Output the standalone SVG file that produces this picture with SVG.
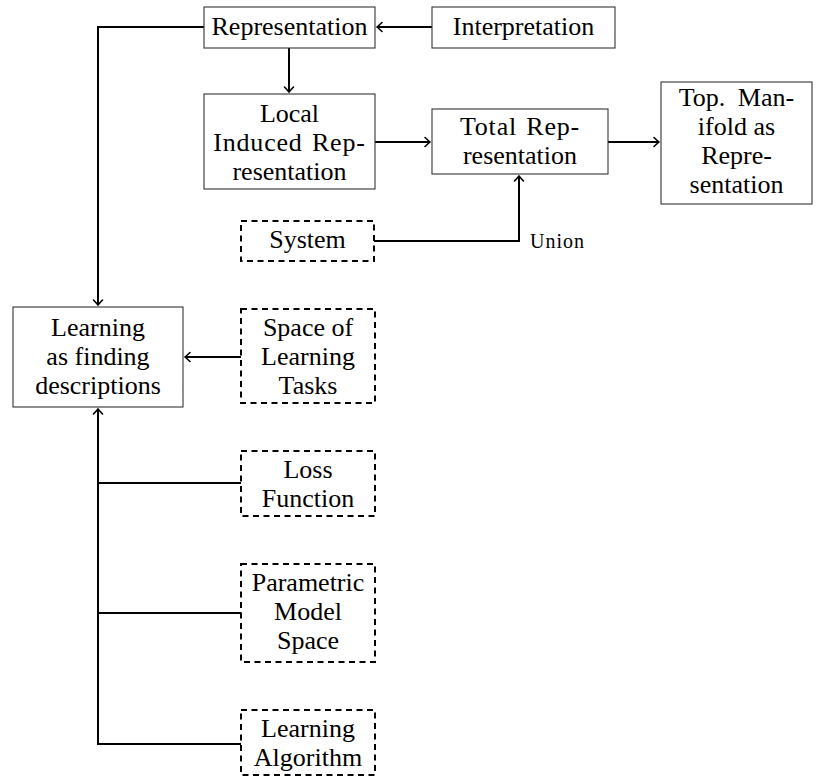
<svg xmlns="http://www.w3.org/2000/svg" width="827" height="782" viewBox="0 0 827 782">
  <style>
    text { font-family: "Liberation Serif", "DejaVu Serif", serif; font-size: 26px; fill: #000; text-anchor: middle; }
    .small { font-size: 20px; letter-spacing: 1px; text-anchor: start; }
    .wide { letter-spacing: 0.8px; }
    .box { fill: #fff; stroke: #333; stroke-width: 1.1; }
    .dbox { fill: #fff; stroke: #000; stroke-width: 2; stroke-dasharray: 6 4.5; }
    .wire { fill: none; stroke: #000; stroke-width: 2; }
  </style>
  <defs>
    <marker id="tip" viewBox="-6 -6 8 12" markerWidth="8" markerHeight="12" refX="0" refY="0" orient="auto" markerUnits="userSpaceOnUse">
      <path d="M -5 -4.5 Q -1.5 -1.2 0 0 Q -1.5 1.2 -5 4.5" fill="none" stroke="#000" stroke-width="1.6" stroke-linecap="round"/>
    </marker>
  </defs>

  <!-- connectors -->
  <g id="connectors">
    <path class="wire" d="M 432 27 L 377 27" marker-end="url(#tip)"/>
    <path class="wire" d="M 204 27 L 98 27 L 98 305" marker-end="url(#tip)"/>
    <path class="wire" d="M 289 48 L 289 92" marker-end="url(#tip)"/>
    <path class="wire" d="M 375 142 L 430 142" marker-end="url(#tip)"/>
    <path class="wire" d="M 608 142 L 659 142" marker-end="url(#tip)"/>
    <path class="wire" d="M 374 241 L 519 241 L 519 176" marker-end="url(#tip)"/>
    <path class="wire" d="M 241 357 L 185 357" marker-end="url(#tip)"/>
    <path class="wire" d="M 241 744 L 98 744 L 98 409" marker-end="url(#tip)"/>
    <path class="wire" d="M 98 483 L 241 483"/>
    <path class="wire" d="M 98 613 L 241 613"/>
    <text class="small" x="530" y="248">Union</text>
  </g>

  <g id="representation">
    <rect class="box" x="204" y="7" width="171" height="41"/>
    <text x="289.5" y="35">Representation</text>
  </g>

  <g id="interpretation">
    <rect class="box" x="432" y="7" width="183" height="41"/>
    <text x="523.5" y="35">Interpretation</text>
  </g>

  <g id="local-induced">
    <rect class="box" x="204" y="94" width="171" height="95"/>
    <text x="289.5" y="122">Local</text>
    <text class="wide" x="289.5" y="151" word-spacing="2">Induced Rep-</text>
    <text x="289.5" y="180">resentation</text>
  </g>

  <g id="total">
    <rect class="box" x="432" y="109" width="176" height="65"/>
    <text class="wide" x="520" y="135" word-spacing="2">Total Rep-</text>
    <text x="520" y="164">resentation</text>
  </g>

  <g id="manifold">
    <rect class="box" x="661" y="82" width="151" height="122"/>
    <text x="736.5" y="106" word-spacing="6">Top. Man-</text>
    <text x="736.5" y="135">ifold as</text>
    <text x="736.5" y="164">Repre-</text>
    <text x="736.5" y="193">sentation</text>
  </g>

  <g id="system">
    <rect class="dbox" x="241" y="221" width="133" height="40"/>
    <text x="307.5" y="248">System</text>
  </g>

  <g id="learning">
    <rect class="box" x="13" y="307" width="170" height="100"/>
    <text x="98" y="336">Learning</text>
    <text x="98" y="365">as finding</text>
    <text x="98" y="394">descriptions</text>
  </g>

  <g id="tasks">
    <rect class="dbox" x="241" y="309" width="134" height="94"/>
    <text x="308" y="336">Space of</text>
    <text x="308" y="365">Learning</text>
    <text x="308" y="394">Tasks</text>
  </g>

  <g id="loss">
    <rect class="dbox" x="241" y="451" width="134" height="65"/>
    <text x="308" y="478">Loss</text>
    <text x="308" y="507">Function</text>
  </g>

  <g id="model-space">
    <rect class="dbox" x="241" y="564" width="134" height="98"/>
    <text x="308" y="591">Parametric</text>
    <text x="308" y="620">Model</text>
    <text x="308" y="649">Space</text>
  </g>

  <g id="algorithm">
    <rect class="dbox" x="241" y="710" width="134" height="65"/>
    <text x="308" y="737">Learning</text>
    <text x="308" y="766">Algorithm</text>
  </g>
</svg>
